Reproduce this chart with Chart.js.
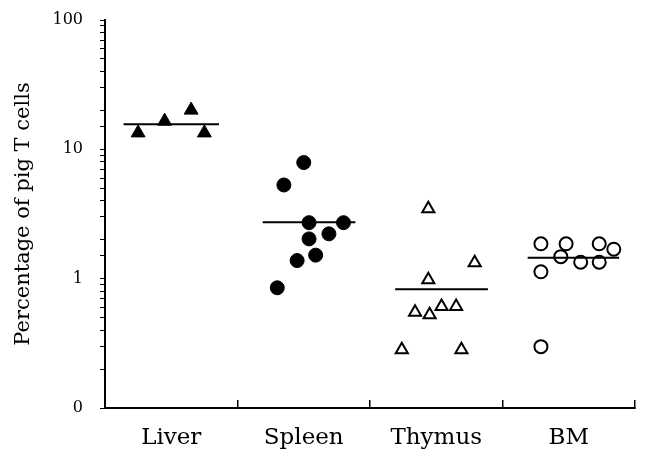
<!DOCTYPE html>
<html>
<head>
<meta charset="utf-8">
<script src="https://cdn.jsdelivr.net/npm/chart.js@4"></script>
<style>
  html, body { margin: 0; padding: 0; background: #fff; }
  #wrap { width: 646px; height: 457px; }
</style>
</head>
<body>
<div id="wrap"><canvas id="scatterChart" width="646" height="457"></canvas></div>
<script>
// categories and values
var categories = ['Liver', 'Spleen', 'Thymus', 'BM'];

// horizontal spread of each point inside its category (fraction of category width)
var liverSpread  = [-0.25, -0.05, 0.15, 0.25];
var liverValues  = [13.4, 16.5, 20.1, 13.4];

var spleenSpread = [0.0, -0.15, 0.04, 0.30, 0.19, 0.04, 0.09, -0.05, -0.20];
var spleenValues = [7.9, 5.3, 2.71, 2.71, 2.22, 2.03, 1.52, 1.38, 0.85];

var thymusSpread = [-0.06, 0.29, -0.06, -0.16, -0.05, 0.04, 0.15, -0.26, 0.19];
var thymusValues = [3.47, 1.33, 0.98, 0.55, 0.525, 0.61, 0.61, 0.282, 0.282];

var bmSpread = [-0.21, -0.02, 0.23, 0.34, -0.06, 0.09, 0.23, -0.21, -0.21];
var bmValues = [1.86, 1.86, 1.86, 1.69, 1.48, 1.34, 1.34, 1.13, 0.298];

// median bars
var medians     = [15.6, 2.73, 0.83, 1.45];
var medianStart = [-0.36, -0.31, -0.31, -0.31];
var medianEnd   = [0.36, 0.39, 0.39, 0.38];

// y axis tick labels
var yTickValues = [0.1, 1, 10, 100];
var yTickLabels = ['0', '1', '10', '100'];

function points(catIndex, spread, values) {
  return values.map(function (v, i) { return { x: catIndex + spread[i], y: v }; });
}

function medianLine(i) {
  return {
    type: 'line',
    data: [{ x: i + medianStart[i], y: medians[i] }, { x: i + medianEnd[i], y: medians[i] }],
    borderColor: '#000',
    borderWidth: 2,
    pointRadius: 0,
    showLine: true,
    fill: false
  };
}

var ctx = document.getElementById('scatterChart').getContext('2d');
var chart = new Chart(ctx, {
  type: 'scatter',
  data: {
    datasets: [
      medianLine(0), medianLine(1), medianLine(2), medianLine(3),
      {
        data: points(0, liverSpread, liverValues),
        pointStyle: 'triangle',
        pointRadius: 8,
        backgroundColor: '#000',
        borderColor: '#000',
        borderWidth: 1
      },
      {
        data: points(1, spleenSpread, spleenValues),
        pointStyle: 'circle',
        pointRadius: 7,
        backgroundColor: '#000',
        borderColor: '#000',
        borderWidth: 1
      },
      {
        data: points(2, thymusSpread, thymusValues),
        pointStyle: 'triangle',
        pointRadius: 7,
        backgroundColor: '#fff',
        borderColor: '#000',
        borderWidth: 2
      },
      {
        data: points(3, bmSpread, bmValues),
        pointStyle: 'circle',
        pointRadius: 6.5,
        backgroundColor: 'rgba(255,255,255,0)',
        borderColor: '#000',
        borderWidth: 2
      }
    ]
  },
  options: {
    responsive: false,
    animation: false,
    layout: { padding: { top: 20, right: 11, left: 0, bottom: 0 } },
    plugins: { legend: { display: false }, tooltip: { enabled: false } },
    scales: {
      x: {
        type: 'linear',
        min: -0.5,
        max: 3.5,
        afterBuildTicks: function (scale) {
          scale.ticks = categories.map(function (_, i) { return { value: i }; });
        },
        afterFit: function (scale) {
          scale.height = 49;
          scale.paddingLeft = 0;
          scale.paddingRight = 0;
        },
        border: { color: '#000', width: 2 },
        grid: { offset: true, drawOnChartArea: false, tickLength: -8, color: '#000', lineWidth: 1.5 },
        ticks: {
          padding: 24,
          color: '#000',
          font: { family: 'DejaVu Serif', size: 23 },
          autoSkip: false,
          maxRotation: 0,
          callback: function (v) { return categories[v]; }
        }
      },
      y: {
        type: 'logarithmic',
        min: 0.1,
        max: 100,
        afterFit: function (scale) {
          scale.width = 105;
          scale.paddingTop = 0;
          scale.paddingBottom = 0;
        },
        border: { color: '#000', width: 2 },
        grid: { drawOnChartArea: false, tickLength: 5, color: '#000', lineWidth: 1 },
        title: {
          display: true,
          text: 'Percentage of pig T cells',
          color: '#000',
          font: { family: 'DejaVu Serif', size: 21 },
          padding: { top: 11, bottom: 0 }
        },
        ticks: {
          autoSkip: false,
          padding: 17,
          color: '#000',
          font: { family: 'DejaVu Serif', size: 16 },
          callback: function (v) {
            for (var i = 0; i < yTickValues.length; i++) {
              if (Math.abs(v - yTickValues[i]) < yTickValues[i] * 1e-6) return yTickLabels[i];
            }
            return '';
          }
        }
      }
    }
  }
});
</script>
</body>
</html>
